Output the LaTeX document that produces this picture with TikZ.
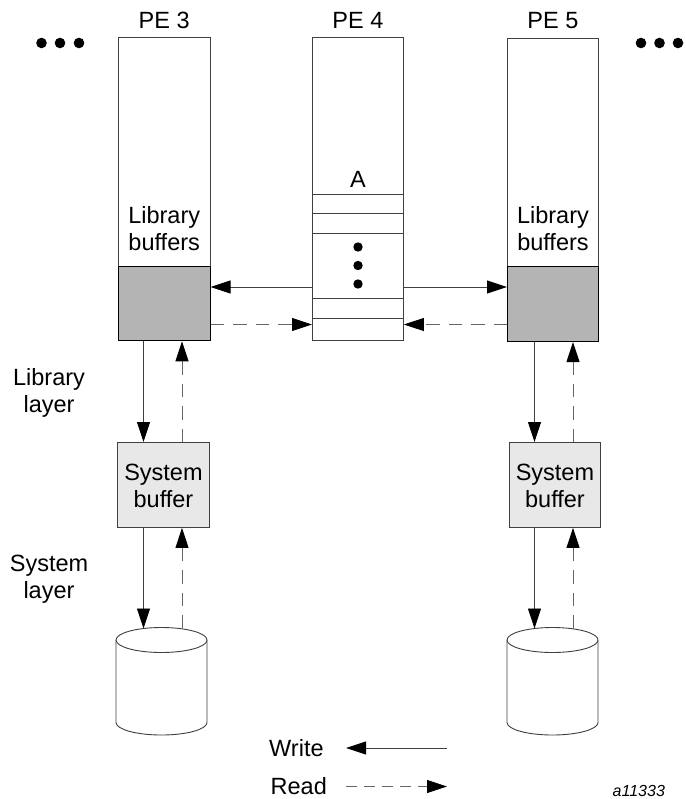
\documentclass[tikz,border=0pt]{standalone}
\usepackage{fontspec}
\setmainfont{Liberation Sans}
\usetikzlibrary{arrows.meta}
\definecolor{bufgray}{HTML}{B4B4B4}
\definecolor{sysgray}{HTML}{E8E8E8}
\definecolor{edge}{HTML}{404040}
\begin{document}
\begin{tikzpicture}[x=1pt,y=-1pt,
  box/.style={draw=edge, line width=0.9pt, inner sep=0pt, anchor=north west},
  libbox/.style={box, draw=black, line width=1.1pt, fill=bufgray},
  sysbox/.style={box, fill=sysgray},
  txt/.style={font=\fontsize{23.5}{27}\selectfont, align=center, inner sep=0pt},
  wr/.style={draw=edge, line width=0.9pt, -{Triangle[length=20pt,width=13pt,color=black]}},
  rd/.style={wr, draw=black!60, dash pattern=on 13.5pt off 9pt},
  dot/.style={fill=black, circle, inner sep=0pt}]
\useasboundingbox (0,0) rectangle (685,799);

% processor memory columns
\node[box, minimum width=91.5pt, minimum height=303pt] (col3) at (118,37) {};
\node[box, minimum width=91pt, minimum height=303pt] (col4) at (312,37) {};
\node[box, minimum width=91pt, minimum height=303pt] (col5) at (507,38) {};

% library buffers (shaded part)
\node[libbox, minimum width=91.5pt, minimum height=74.5pt] (lib3) at (118,265.7) {};
\node[libbox, minimum width=91pt, minimum height=75pt] (lib5) at (507,266) {};

% slots of the remote array
\foreach \yy in {194,213,233,298,318}
  \draw[draw=edge, line width=0.9pt] (col4.west |- 0,\yy) -- (col4.east |- 0,\yy);
\foreach \yy/\nm in {247/d1,265.5/d2,284/d3}
  \node[dot, minimum size=9.4pt] (\nm) at (358,\yy) {};

% column titles and texts
\node[txt, anchor=base] (t3) at (col3.north |- 0,29) {PE 3};
\node[txt, anchor=base] (t4) at (col4.north |- 0,29) {PE 4};
\node[txt, anchor=base] (t5) at (col5.north |- 0,29) {PE 5};
\node[txt, anchor=base] (ta) at (358,188) {A};
\node[txt] (lb3) at (col3.center |- 0,229) {Library\\buffers};
\node[txt] (lb5) at (col5.center |- 0,229) {Library\\buffers};

% ellipsis dots on both sides
\foreach \xx/\nm in {41.5/l1,60/l2,79/l3,641/r1,659.5/r2,678/r3}
  \node[dot, minimum size=10.6pt] (\nm) at (\xx,43) {};

% system buffers
\node[sysbox, minimum width=92pt, minimum height=85pt] (sys3) at (117,442) {};
\node[sysbox, minimum width=91pt, minimum height=85pt] (sys5) at (509,442) {};
\node[txt] (sb3) at (sys3.center |- 0,485.5) {System\\buffer};
\node[txt] (sb5) at (sys5.center |- 0,485.5) {System\\buffer};

% layer labels
\node[txt] (ll) at (49,393) {Library\\layer};
\node[txt] (sl) at (49,579) {System\\layer};

% disks
\foreach \cx/\nm in {161.5/3,552.5/5}{
  \draw[draw=edge, line width=0.9pt, fill=white]
    (\cx-45.5,640) -- (\cx-45.5,722.5)
    arc[start angle=180, end angle=360, x radius=45.5pt, y radius=12.5pt]
    -- (\cx+45.5,640);
  \draw[draw=edge, line width=0.9pt, fill=white]
    (\cx,640) ellipse[x radius=45.5pt, y radius=12.5pt];
  \coordinate (disk\nm in)  at (\cx-18,628.5);
  \coordinate (disk\nm out) at (\cx+20.5,628.8);
}

% transfers between PE 4 and its neighbours
\draw[wr] (col4.west |- 0,287) -- (lib3.east |- 0,287);
\draw[wr] (col4.east |- 0,287) -- (lib5.west |- 0,287);
\draw[rd] (lib3.east |- 0,324.5) -- (col4.west |- 0,324.5);
\draw[rd] (lib5.west |- 0,324.5) -- (col4.east |- 0,324.5);

% library layer transfers
\draw[wr] (lib3.south -| disk3in) -- (sys3.north -| disk3in);
\draw[rd] (sys3.north -| disk3out) -- (lib3.south -| disk3out);
\draw[wr] (lib5.south -| disk5in) -- (sys5.north -| disk5in);
\draw[rd] (sys5.north -| disk5out) -- (lib5.south -| disk5out);

% system layer transfers
\draw[wr] (sys3.south -| disk3in) -- (disk3in);
\draw[rd] (disk3out) -- (sys3.south -| disk3out);
\draw[wr] (sys5.south -| disk5in) -- (disk5in);
\draw[rd] (disk5out) -- (sys5.south -| disk5out);

% legend
\node[txt, anchor=base west] (lw) at (269,756.5) {Write};
\node[txt, anchor=base west] (lr) at (270.5,794) {Read};
\coordinate (lwa) at (447,748);
\coordinate (lwb) at (346,748);
\coordinate (lra) at (346,786.5);
\coordinate (lrb) at (447,786.5);
\draw[wr] (lwa) -- (lwb);
\draw[rd, dash pattern=on 11pt off 7pt] (lra) -- (lrb);

% figure tag
\node[anchor=base west, inner sep=0pt, font=\fontsize{16}{18}\selectfont\itshape] (tag) at (612.5,796) {a11333};
\end{tikzpicture}
\end{document}
